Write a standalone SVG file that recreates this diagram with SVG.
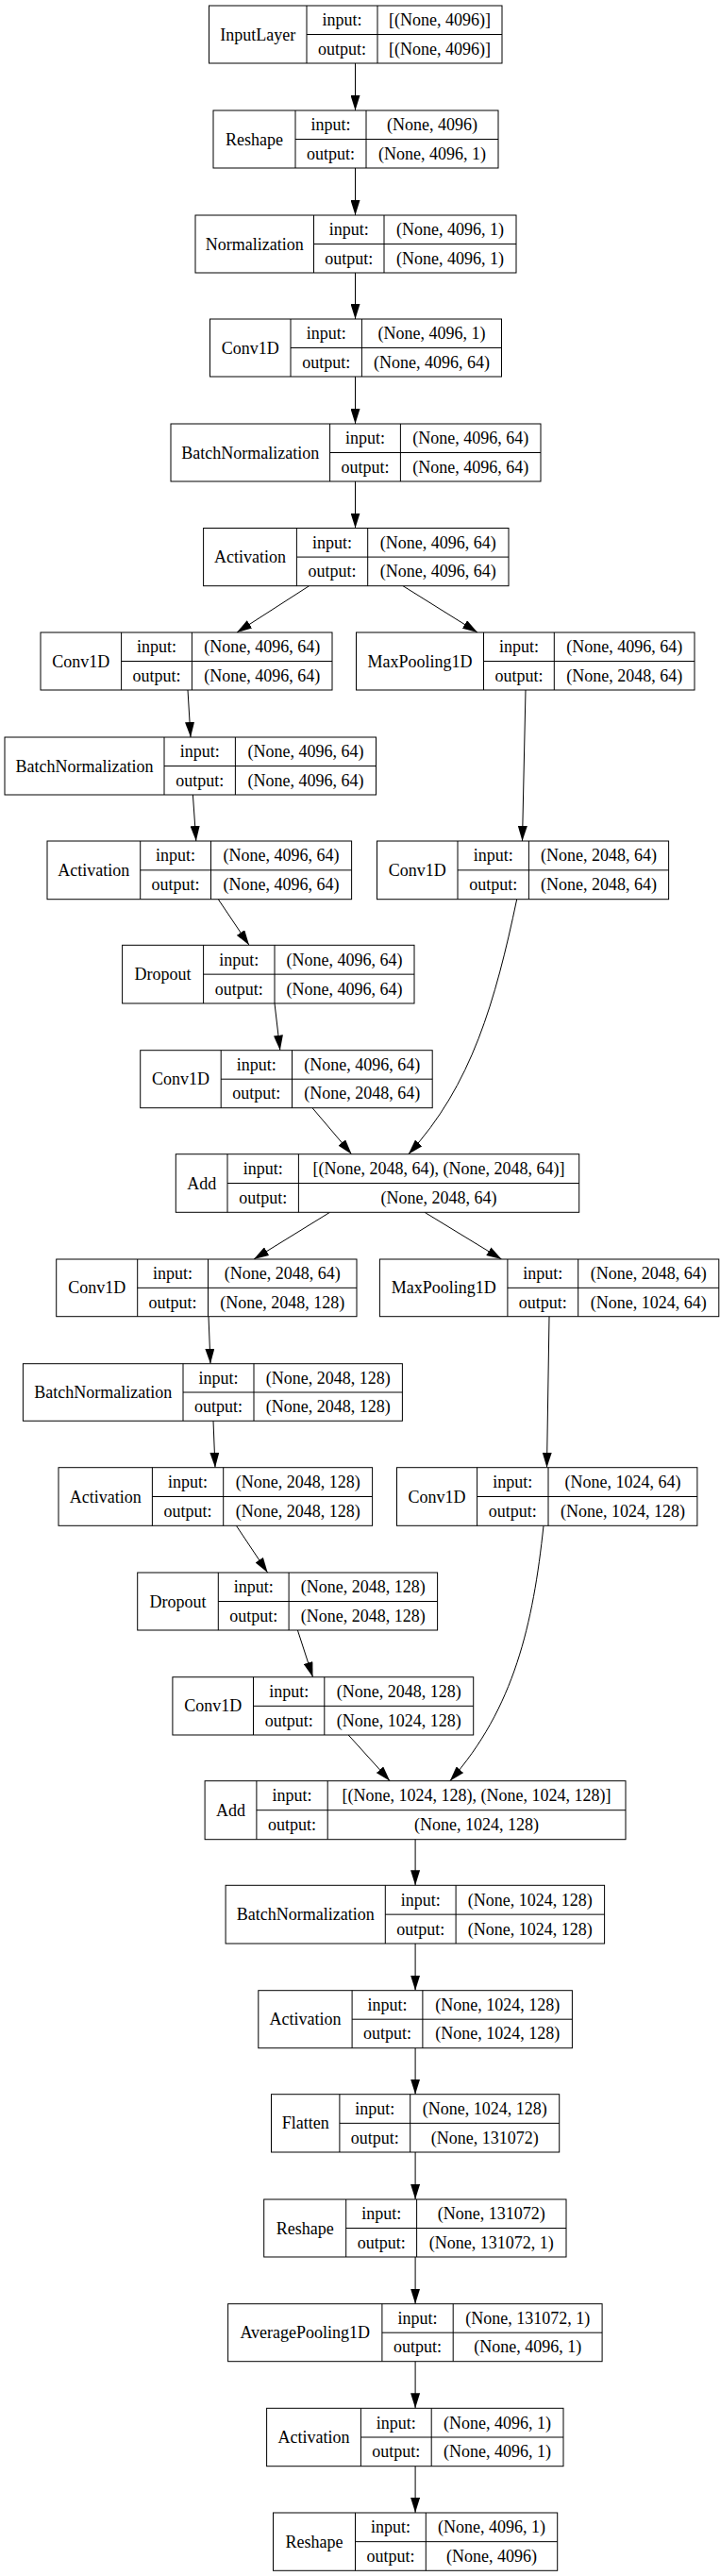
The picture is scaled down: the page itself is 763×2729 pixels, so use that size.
<svg xmlns="http://www.w3.org/2000/svg" width="763" height="2729" viewBox="0 0 763 2729">
<style>
rect{fill:#fff;stroke:#000;stroke-width:1}
path.d{fill:none;stroke:#000;stroke-width:1}
text{font-family:"Liberation Serif","Times New Roman",serif;font-size:18px;text-anchor:middle;fill:#000}
#edges path{fill:none;stroke:#000;stroke-width:1;marker-end:url(#ah)}
</style>
<defs>
<marker id="ah" markerUnits="userSpaceOnUse" markerWidth="16" markerHeight="10" refX="16" refY="5" orient="auto" viewBox="0 0 16 10">
<path d="M0,0 L16,5 L0,10 z" fill="#000"/>
</marker>
</defs>
<rect x="0" y="0" width="763" height="2729" style="stroke:none;fill:#fff"/>
<g id="edges">
<path d="M376.5,67V117"/>
<path d="M376.5,178V228"/>
<path d="M376.5,289V338"/>
<path d="M376.5,399V449"/>
<path d="M376.5,510V559.5"/>
<path d="M327.6,620.7L251,670"/>
<path d="M427,620.7L506,670"/>
<path d="M199,731L202,781"/>
<path d="M557,731L553.5,891"/>
<path d="M204.4,842L207.8,891"/>
<path d="M231.3,952.7L264,1001.3"/>
<path d="M291,1063L296.8,1112.7"/>
<path d="M547.7,952.7C525,1060 500,1150 432.8,1222.7"/>
<path d="M331,1173.7L372.6,1222.7"/>
<path d="M349.6,1284.3L269,1334"/>
<path d="M450,1284.3L531.5,1334"/>
<path d="M221,1394.7L223,1444.7"/>
<path d="M582,1394.7L579.5,1554.7"/>
<path d="M226,1505.3L228,1554.7"/>
<path d="M250.4,1616.3L283.6,1666"/>
<path d="M315.4,1727L331.5,1776.7"/>
<path d="M576,1616.3C565,1720 545,1810 476.8,1886.7"/>
<path d="M369.2,1838L413.2,1886.7"/>
<path d="M440.1,1948.7V1997.3"/>
<path d="M440.1,2059V2108.7"/>
<path d="M440.1,2169.7V2218.7"/>
<path d="M440.1,2280V2330"/>
<path d="M440.1,2391V2440.7"/>
<path d="M440.1,2501.7V2551.3"/>
<path d="M440.1,2612.7V2662"/>
</g>
<g id="n1"><rect x="221.5" y="6" width="310.5" height="61"/><path class="d" d="M325,6V67M400,6V67M325,36.5H532"/>
<text x="273.25" y="42.5">InputLayer</text><text x="362.5" y="27.25">input:</text><text x="362.5" y="57.75">output:</text><text x="466" y="27.25">[(None, 4096)]</text><text x="466" y="57.75">[(None, 4096)]</text></g>
<g id="n2"><rect x="226" y="117" width="302" height="61"/><path class="d" d="M313,117V178M388,117V178M313,147.5H528"/>
<text x="269.5" y="153.5">Reshape</text><text x="350.5" y="138.25">input:</text><text x="350.5" y="168.75">output:</text><text x="458" y="138.25">(None, 4096)</text><text x="458" y="168.75">(None, 4096, 1)</text></g>
<g id="n3"><rect x="207" y="228" width="340" height="61"/><path class="d" d="M332.5,228V289M407,228V289M332.5,258.5H547"/>
<text x="269.75" y="264.5">Normalization</text><text x="369.75" y="249.25">input:</text><text x="369.75" y="279.75">output:</text><text x="477" y="249.25">(None, 4096, 1)</text><text x="477" y="279.75">(None, 4096, 1)</text></g>
<g id="n4"><rect x="222.5" y="338" width="309" height="61"/><path class="d" d="M308,338V399M383.4,338V399M308,368.5H531.5"/>
<text x="265.25" y="374.5">Conv1D</text><text x="345.7" y="359.25">input:</text><text x="345.7" y="389.75">output:</text><text x="457.45" y="359.25">(None, 4096, 1)</text><text x="457.45" y="389.75">(None, 4096, 64)</text></g>
<g id="n5"><rect x="181" y="449" width="392" height="61"/><path class="d" d="M349.6,449V510M424.4,449V510M349.6,479.5H573"/>
<text x="265.3" y="485.5">BatchNormalization</text><text x="387" y="470.25">input:</text><text x="387" y="500.75">output:</text><text x="498.7" y="470.25">(None, 4096, 64)</text><text x="498.7" y="500.75">(None, 4096, 64)</text></g>
<g id="n6"><rect x="215.6" y="559.5" width="323.4" height="61.2"/><path class="d" d="M314.4,559.5V620.7M389.7,559.5V620.7M314.4,590.1H539"/>
<text x="265" y="596.1">Activation</text><text x="352.05" y="580.8">input:</text><text x="352.05" y="611.4">output:</text><text x="464.35" y="580.8">(None, 4096, 64)</text><text x="464.35" y="611.4">(None, 4096, 64)</text></g>
<g id="n7"><rect x="43" y="670" width="309" height="61"/><path class="d" d="M128.6,670V731M203.4,670V731M128.6,700.5H352"/>
<text x="85.8" y="706.5">Conv1D</text><text x="166" y="691.25">input:</text><text x="166" y="721.75">output:</text><text x="277.7" y="691.25">(None, 4096, 64)</text><text x="277.7" y="721.75">(None, 4096, 64)</text></g>
<g id="n8"><rect x="377.5" y="670" width="358.5" height="61"/><path class="d" d="M512.5,670V731M587.3,670V731M512.5,700.5H736"/>
<text x="445" y="706.5">MaxPooling1D</text><text x="549.9" y="691.25">input:</text><text x="549.9" y="721.75">output:</text><text x="661.65" y="691.25">(None, 4096, 64)</text><text x="661.65" y="721.75">(None, 2048, 64)</text></g>
<g id="n9"><rect x="5" y="781" width="393.5" height="61"/><path class="d" d="M174,781V842M249.4,781V842M174,811.5H398.5"/>
<text x="89.5" y="817.5">BatchNormalization</text><text x="211.7" y="802.25">input:</text><text x="211.7" y="832.75">output:</text><text x="323.95" y="802.25">(None, 4096, 64)</text><text x="323.95" y="832.75">(None, 4096, 64)</text></g>
<g id="n10"><rect x="50" y="891" width="322.6" height="61.7"/><path class="d" d="M148.7,891V952.7M223.5,891V952.7M148.7,921.85H372.6"/>
<text x="99.35" y="927.85">Activation</text><text x="186.1" y="912.4">input:</text><text x="186.1" y="943.3">output:</text><text x="298.05" y="912.4">(None, 4096, 64)</text><text x="298.05" y="943.3">(None, 4096, 64)</text></g>
<g id="n11"><rect x="399.5" y="891" width="309.1" height="61.7"/><path class="d" d="M485,891V952.7M560.4,891V952.7M485,921.85H708.6"/>
<text x="442.25" y="927.85">Conv1D</text><text x="522.7" y="912.4">input:</text><text x="522.7" y="943.3">output:</text><text x="634.5" y="912.4">(None, 2048, 64)</text><text x="634.5" y="943.3">(None, 2048, 64)</text></g>
<g id="n12"><rect x="129.6" y="1001.3" width="309.4" height="61.7"/><path class="d" d="M215.6,1001.3V1063M291,1001.3V1063M215.6,1032.15H439"/>
<text x="172.6" y="1038.15">Dropout</text><text x="253.3" y="1022.7">input:</text><text x="253.3" y="1053.6">output:</text><text x="365" y="1022.7">(None, 4096, 64)</text><text x="365" y="1053.6">(None, 4096, 64)</text></g>
<g id="n13"><rect x="148.7" y="1112.7" width="309.5" height="61"/><path class="d" d="M234.2,1112.7V1173.7M309.5,1112.7V1173.7M234.2,1143.2H458.2"/>
<text x="191.45" y="1149.2">Conv1D</text><text x="271.85" y="1133.95">input:</text><text x="271.85" y="1164.45">output:</text><text x="383.85" y="1133.95">(None, 4096, 64)</text><text x="383.85" y="1164.45">(None, 2048, 64)</text></g>
<g id="n14"><rect x="186.3" y="1222.7" width="427.4" height="61.6"/><path class="d" d="M241,1222.7V1284.3M316.4,1222.7V1284.3M241,1253.5H613.7"/>
<text x="213.65" y="1259.5">Add</text><text x="278.7" y="1244.1">input:</text><text x="278.7" y="1274.9">output:</text><text x="465.05" y="1244.1">[(None, 2048, 64), (None, 2048, 64)]</text><text x="465.05" y="1274.9">(None, 2048, 64)</text></g>
<g id="n15"><rect x="59.7" y="1334" width="318.3" height="60.7"/><path class="d" d="M145.7,1334V1394.7M220.5,1334V1394.7M145.7,1364.35H378"/>
<text x="102.7" y="1370.35">Conv1D</text><text x="183.1" y="1355.2">input:</text><text x="183.1" y="1385.5">output:</text><text x="299.25" y="1355.2">(None, 2048, 64)</text><text x="299.25" y="1385.5">(None, 2048, 128)</text></g>
<g id="n16"><rect x="402.4" y="1334" width="359.4" height="60.7"/><path class="d" d="M537.9,1334V1394.7M612.7,1334V1394.7M537.9,1364.35H761.8"/>
<text x="470.15" y="1370.35">MaxPooling1D</text><text x="575.3" y="1355.2">input:</text><text x="575.3" y="1385.5">output:</text><text x="687.25" y="1355.2">(None, 2048, 64)</text><text x="687.25" y="1385.5">(None, 1024, 64)</text></g>
<g id="n17"><rect x="24.4" y="1444.7" width="402" height="60.6"/><path class="d" d="M194,1444.7V1505.3M269,1444.7V1505.3M194,1475H426.4"/>
<text x="109.2" y="1481">BatchNormalization</text><text x="231.5" y="1465.85">input:</text><text x="231.5" y="1496.15">output:</text><text x="347.7" y="1465.85">(None, 2048, 128)</text><text x="347.7" y="1496.15">(None, 2048, 128)</text></g>
<g id="n18"><rect x="62" y="1554.7" width="332.6" height="61.6"/><path class="d" d="M161.4,1554.7V1616.3M236.7,1554.7V1616.3M161.4,1585.5H394.6"/>
<text x="111.7" y="1591.5">Activation</text><text x="199.05" y="1576.1">input:</text><text x="199.05" y="1606.9">output:</text><text x="315.65" y="1576.1">(None, 2048, 128)</text><text x="315.65" y="1606.9">(None, 2048, 128)</text></g>
<g id="n19"><rect x="420.5" y="1554.7" width="318.4" height="61.6"/><path class="d" d="M505.6,1554.7V1616.3M581,1554.7V1616.3M505.6,1585.5H738.9"/>
<text x="463.05" y="1591.5">Conv1D</text><text x="543.3" y="1576.1">input:</text><text x="543.3" y="1606.9">output:</text><text x="659.95" y="1576.1">(None, 1024, 64)</text><text x="659.95" y="1606.9">(None, 1024, 128)</text></g>
<g id="n20"><rect x="145.7" y="1666" width="317.9" height="61"/><path class="d" d="M231.3,1666V1727M306.1,1666V1727M231.3,1696.5H463.6"/>
<text x="188.5" y="1702.5">Dropout</text><text x="268.7" y="1687.25">input:</text><text x="268.7" y="1717.75">output:</text><text x="384.85" y="1687.25">(None, 2048, 128)</text><text x="384.85" y="1717.75">(None, 2048, 128)</text></g>
<g id="n21"><rect x="182.9" y="1776.7" width="318.8" height="61.3"/><path class="d" d="M268.5,1776.7V1838M343.8,1776.7V1838M268.5,1807.35H501.7"/>
<text x="225.7" y="1813.35">Conv1D</text><text x="306.15" y="1798">input:</text><text x="306.15" y="1828.7">output:</text><text x="422.75" y="1798">(None, 2048, 128)</text><text x="422.75" y="1828.7">(None, 1024, 128)</text></g>
<g id="n22"><rect x="217.1" y="1886.7" width="445.9" height="62"/><path class="d" d="M271.9,1886.7V1948.7M347.2,1886.7V1948.7M271.9,1917.7H663"/>
<text x="244.5" y="1923.7">Add</text><text x="309.55" y="1908.2">input:</text><text x="309.55" y="1939.2">output:</text><text x="505.1" y="1908.2">[(None, 1024, 128), (None, 1024, 128)]</text><text x="505.1" y="1939.2">(None, 1024, 128)</text></g>
<g id="n23"><rect x="239.1" y="1997.3" width="401.5" height="61.7"/><path class="d" d="M408.3,1997.3V2059M483.1,1997.3V2059M408.3,2028.15H640.6"/>
<text x="323.7" y="2034.15">BatchNormalization</text><text x="445.7" y="2018.7">input:</text><text x="445.7" y="2049.6">output:</text><text x="561.85" y="2018.7">(None, 1024, 128)</text><text x="561.85" y="2049.6">(None, 1024, 128)</text></g>
<g id="n24"><rect x="273.8" y="2108.7" width="332.6" height="61"/><path class="d" d="M373.1,2108.7V2169.7M447.9,2108.7V2169.7M373.1,2139.2H606.4"/>
<text x="323.45" y="2145.2">Activation</text><text x="410.5" y="2129.95">input:</text><text x="410.5" y="2160.45">output:</text><text x="527.15" y="2129.95">(None, 1024, 128)</text><text x="527.15" y="2160.45">(None, 1024, 128)</text></g>
<g id="n25"><rect x="287.5" y="2218.7" width="305.2" height="61.3"/><path class="d" d="M359.9,2218.7V2280M434.7,2218.7V2280M359.9,2249.35H592.7"/>
<text x="323.7" y="2255.35">Flatten</text><text x="397.3" y="2240">input:</text><text x="397.3" y="2270.7">output:</text><text x="513.7" y="2240">(None, 1024, 128)</text><text x="513.7" y="2270.7">(None, 131072)</text></g>
<g id="n26"><rect x="279.7" y="2330" width="320.3" height="61"/><path class="d" d="M366.7,2330V2391M441.6,2330V2391M366.7,2360.5H600"/>
<text x="323.2" y="2366.5">Reshape</text><text x="404.15" y="2351.25">input:</text><text x="404.15" y="2381.75">output:</text><text x="520.8" y="2351.25">(None, 131072)</text><text x="520.8" y="2381.75">(None, 131072, 1)</text></g>
<g id="n27"><rect x="241.6" y="2440.7" width="396.5" height="61"/><path class="d" d="M404.9,2440.7V2501.7M480.2,2440.7V2501.7M404.9,2471.2H638.1"/>
<text x="323.25" y="2477.2">AveragePooling1D</text><text x="442.55" y="2461.95">input:</text><text x="442.55" y="2492.45">output:</text><text x="559.15" y="2461.95">(None, 131072, 1)</text><text x="559.15" y="2492.45">(None, 4096, 1)</text></g>
<g id="n28"><rect x="282.6" y="2551.3" width="314.4" height="61.4"/><path class="d" d="M382.4,2551.3V2612.7M457.2,2551.3V2612.7M382.4,2582H597"/>
<text x="332.5" y="2588">Activation</text><text x="419.8" y="2572.65">input:</text><text x="419.8" y="2603.35">output:</text><text x="527.1" y="2572.65">(None, 4096, 1)</text><text x="527.1" y="2603.35">(None, 4096, 1)</text></g>
<g id="n29"><rect x="289.5" y="2662" width="301.2" height="61.3"/><path class="d" d="M376.5,2662V2723.3M451.3,2662V2723.3M376.5,2692.65H590.7"/>
<text x="333" y="2698.65">Reshape</text><text x="413.9" y="2683.3">input:</text><text x="413.9" y="2714">output:</text><text x="521" y="2683.3">(None, 4096, 1)</text><text x="521" y="2714">(None, 4096)</text></g>
</svg>
